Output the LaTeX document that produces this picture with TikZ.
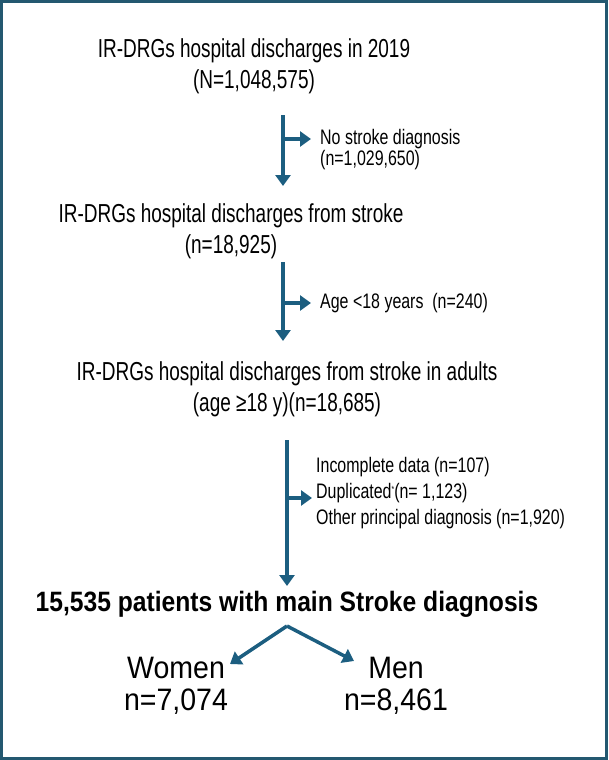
\documentclass[tikz,border=0pt]{standalone}
\usepackage{fontspec}
\setmainfont[FakeStretch=0.73]{Liberation Sans}
\newfontfamily\wide[FakeStretch=0.92]{Liberation Sans}
\newfontfamily\boldf[FakeStretch=0.88]{Liberation Sans Bold}
\newfontfamily\smallf[FakeStretch=0.76]{Liberation Sans}
\usetikzlibrary{arrows.meta}
\definecolor{arr}{RGB}{28,94,128}
\definecolor{frame}{RGB}{35,88,112}
\begin{document}
\begin{tikzpicture}[x=1pt,y=-1pt,
  big/.style={font=\fontsize{26}{31}\selectfont,align=center,inner sep=0},
  small/.style={align=left,anchor=west,inner sep=0},
  flow/.style={draw=arr,line width=3.5pt,-{Triangle[length=11pt,width=15pt]}}]
\useasboundingbox (0,0) rectangle (608,760);
\draw[frame,line width=3pt] (1.5,1.5) rectangle (606.5,758.5);
\node[big] (a) at (254,66) {IR-DRGs hospital discharges in 2019\\(N=1,048,575)};
\node[big] (b) at (231,231) {IR-DRGs hospital discharges from stroke\\(n=18,925)};
\node[big] (c) at (287,389) {IR-DRGs hospital discharges from stroke in adults\\(age ≥18 y)(n=18,685)};
\node[big,font=\boldf\fontsize{28}{31}\selectfont] (d) at (287,604) {15,535 patients with main Stroke diagnosis};
\node[big,font=\wide\fontsize{31}{32}\selectfont] (w) at (176,686) {Women\\n=7,074};
\node[big,font=\wide\fontsize{31}{32}\selectfont] (m) at (396,686) {Men\\n=8,461};
\node[small,font=\smallf\fontsize{21}{21}\selectfont] (t1) at (320,150) {No stroke diagnosis\\(n=1,029,650)};
\node[small,font=\smallf\fontsize{21}{21}\selectfont] (t2) at (320,303) {Age <18 years\ \ (n=240)};
\node[small,font=\smallf\fontsize{21}{26}\selectfont] (t3) at (316,493) {Incomplete data (n=107)\\Duplicated{\fontsize{9}{9}\selectfont\raisebox{1.2ex}{*}}(n= 1,123)\\Other principal diagnosis (n=1,920)};
\coordinate (a1) at (283,115); \coordinate (a2) at (283,186);
\coordinate (b1) at (283,262); \coordinate (b2) at (283,341);
\coordinate (c1) at (287,440); \coordinate (c2) at (287,586);
\coordinate (s) at (287,626);
\coordinate (wl) at (230,664); \coordinate (mr) at (354,661);
\coordinate (e1) at (311,139); \coordinate (e2) at (311,303); \coordinate (e3) at (312,498);
\draw[flow] (a1) -- (a2);
\draw[flow] (283,139) -- (e1);
\draw[flow] (b1) -- (b2);
\draw[flow] (283,303) -- (e2);
\draw[flow] (c1) -- (c2);
\draw[flow] (287,498) -- (e3);
\draw[flow] (s) -- (wl);
\draw[flow] (s) -- (mr);
\end{tikzpicture}
\end{document}
